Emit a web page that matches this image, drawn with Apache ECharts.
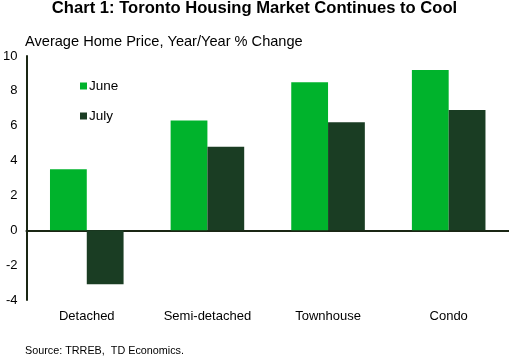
<!DOCTYPE html>
<html><head><meta charset="utf-8">
<script src="https://cdn.jsdelivr.net/npm/echarts@6/dist/echarts.min.js"></script>
<style>html,body{margin:0;padding:0;background:#fff}#c{width:509px;height:358px}</style>
</head><body><div id="c"></div>
<script>
const categories = ['Detached', 'Semi-detached', 'Townhouse', 'Condo'];
const june = [3.5, 6.3, 8.5, 9.2];
const july = [-3.1, 4.8, 6.2, 6.9];
const yTicks = [-4, -2, 0, 2, 4, 6, 8, 10];

const F = 'Liberation Sans, Arial, sans-serif';
const chart = echarts.init(document.getElementById('c'));
chart.setOption({
  animation: false,
  textStyle: { fontFamily: F },
  title: [
    { text: 'Chart 1: Toronto Housing Market Continues to Cool', left: 'center', top: -5,
      textStyle: { fontFamily: F, fontSize: 16.6, fontWeight: 'bold', color: '#000' } },
    { text: 'Average Home Price, Year/Year % Change', left: 20, top: 29,
      textStyle: { fontFamily: F, fontSize: 14.6, fontWeight: 'normal', color: '#000' } },
    { text: 'Source: TRREB,  TD Economics.', left: 20, top: 341,
      textStyle: { fontFamily: F, fontSize: 10.8, fontWeight: 'normal', color: '#000' } }
  ],
  legend: {
    orient: 'vertical', left: 75, top: 74, itemGap: 16,
    itemWidth: 7, itemHeight: 7, icon: 'rect',
    textStyle: { fontFamily: F, fontSize: 13.5, color: '#000', padding: [0, 0, 0, -3] },
    data: ['June', 'July']
  },
  grid: { left: 25, right: 0, top: 56, bottom: 58 },
  xAxis: [
    { type: 'category', data: categories,
      axisLine: { onZero: true, lineStyle: { color: '#1a2614', width: 2 } },
      axisTick: { show: false }, axisLabel: { show: false } },
    { type: 'category', data: categories, position: 'bottom',
      axisLine: { show: false, onZero: false }, axisTick: { show: false },
      axisLabel: { fontFamily: F, fontSize: 13, color: '#000', margin: 10 } }
  ],
  yAxis: {
    type: 'value', min: -4, max: 10, interval: 2,
    axisLine: { show: true, lineStyle: { color: '#1a2614', width: 2 } },
    axisTick: { show: false }, splitLine: { show: false },
    axisLabel: { fontFamily: F, fontSize: 13, color: '#000', margin: 9,
      formatter: v => yTicks.includes(v) ? String(v) : '' }
  },
  series: [
    { name: 'June', type: 'bar', xAxisIndex: 0, data: june, barGap: '0%', barCategoryGap: '39%',
      itemStyle: { color: '#00B32C' } },
    { name: 'July', type: 'bar', xAxisIndex: 0, data: july, barGap: '0%', barCategoryGap: '39%',
      itemStyle: { color: '#1A3D23' } }
  ]
});
</script></body></html>
